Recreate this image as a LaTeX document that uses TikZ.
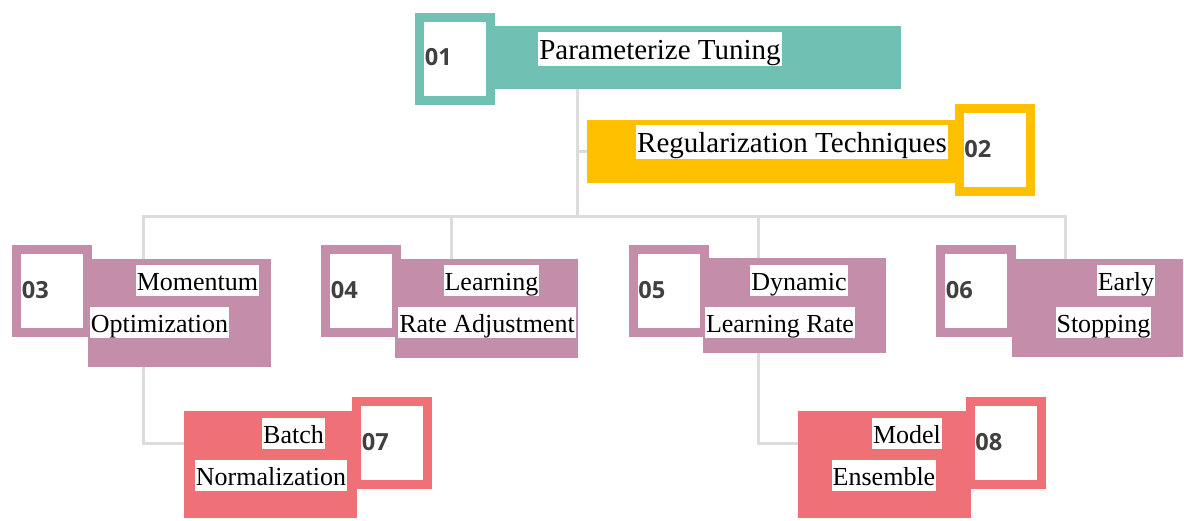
\documentclass[tikz,border=0pt]{standalone}
\usepackage{fontspec}
\setmainfont{Liberation Serif}
\newfontfamily\numfont{Open Sans}
\usetikzlibrary{backgrounds}

\definecolor{tealbar}{HTML}{70C1B3}
\definecolor{goldbar}{HTML}{FFC000}
\definecolor{mauvebar}{HTML}{C48EAA}
\definecolor{redbar}{HTML}{F07078}
\definecolor{linkgrey}{HTML}{DCDCDC}
\definecolor{numgrey}{HTML}{404040}

\tikzset{
  bar/.style={rectangle, fill=#1, inner sep=0pt},
  numbox/.style={rectangle, draw=#1, line width=4.5pt, fill=white, inner sep=0pt, outer sep=0pt, minimum width=35.5pt, minimum height=41.5pt},
  numtext/.style={anchor=west, inner sep=0pt, text=numgrey, font=\numfont\bfseries\fontsize{11.8}{13}\selectfont},
  bigcap/.style={fill=white, inner xsep=0.5pt, inner ysep=0pt, text height=13.5pt, text depth=3.5pt, font=\fontsize{14.5}{17}\selectfont},
  smallcap/.style={fill=white, inner xsep=0.5pt, inner ysep=0pt, text height=12.5pt, text depth=3pt, font=\fontsize{13}{15}\selectfont},
  link/.style={draw=linkgrey, line width=1.5pt}
}

\begin{document}
\begin{tikzpicture}[x=0.5pt, y=-0.5pt]
\useasboundingbox (0,0) rectangle (1184,520);

% coloured bars
\node[bar=tealbar, minimum width=203pt, minimum height=31.5pt] (tuningbar) at (698,57.5) {};
\node[bar=goldbar, minimum width=185pt, minimum height=31.5pt] (regbar) at (772,151.5) {};
\node[bar=mauvebar, minimum width=91.5pt, minimum height=54pt] (momentbar) at (179.5,313) {};
\node[bar=mauvebar, minimum width=91.5pt, minimum height=49.5pt] (learnbar) at (486.5,308.5) {};
\node[bar=mauvebar, minimum width=91.5pt, minimum height=47.5pt] (dynbar) at (794.5,305.5) {};
\node[bar=mauvebar, minimum width=85.5pt, minimum height=49pt] (earlybar) at (1097.5,308) {};
\node[bar=redbar, minimum width=86.5pt, minimum height=53.5pt] (batchbar) at (270.5,464.5) {};
\node[bar=redbar, minimum width=86.5pt, minimum height=53.5pt] (modelbar) at (884.5,464.5) {};

% number squares
\node[numbox=tealbar] (sq01) at (455,58.5) {};
\node[numbox=goldbar] (sq02) at (994.5,150) {};
\node[numbox=mauvebar] (sq03) at (52,291) {};
\node[numbox=mauvebar] (sq04) at (361,291) {};
\node[numbox=mauvebar] (sq05) at (668.5,291) {};
\node[numbox=mauvebar] (sq06) at (976,291) {};
\node[numbox=redbar] (sq07) at (392,443) {};
\node[numbox=redbar] (sq08) at (1005.5,443) {};

\foreach \k in {01,02,03,04,05,06,07,08}
  \node[numtext] (n\k) at ([xshift=2.5pt,yshift=0.5pt]sq\k.west) {\k};

% captions
\node[bigcap] (tuningtxt) at (660,49) {Parameterize Tuning};
\node[bigcap] (regtxt) at (792,142) {Regularization Techniques};
\node[smallcap] (momtxt) at (197.5,280.5) {Momentum};
\node[smallcap] (opttxt) at (159.5,322.5) {Optimization};
\node[smallcap] (learntxt) at (491.5,280.5) {Learning};
\node[smallcap] (ratetxt) at (487,322.5) {Rate Adjustment};
\node[smallcap] (dyntxt) at (799,280.5) {Dynamic};
\node[smallcap] (lrtxt) at (780,322.5) {Learning Rate};
\node[smallcap] (earlytxt) at (1126,280.5) {Early};
\node[smallcap] (stoptxt) at (1103.5,322.5) {Stopping};
\node[smallcap] (batchtxt) at (293.5,433.5) {Batch};
\node[smallcap] (normtxt) at (271,475.5) {Normalization};
\node[smallcap] (modeltxt) at (907,433.5) {Model};
\node[smallcap] (enstxt) at (884,475.5) {Ensemble};

% tree links
\coordinate (hub) at (577,216);
\coordinate (b3) at (143,216);
\coordinate (b4) at (451,216);
\coordinate (b5) at (758,216);
\coordinate (b6) at (1065,216);

\begin{scope}[on background layer]
\draw[link] (hub |- tuningbar.south) -- (hub);
\draw[link] (hub |- regbar.west) -- (regbar.west);
\draw[link] (batchbar.west |- sq07) -| (b3) -- (b6) -- (b6 |- earlybar.north);
\draw[link] (b4) -- (b4 |- learnbar.north);
\draw[link] (b5) |- (modelbar.west |- sq08);
\end{scope}

\end{tikzpicture}
\end{document}
